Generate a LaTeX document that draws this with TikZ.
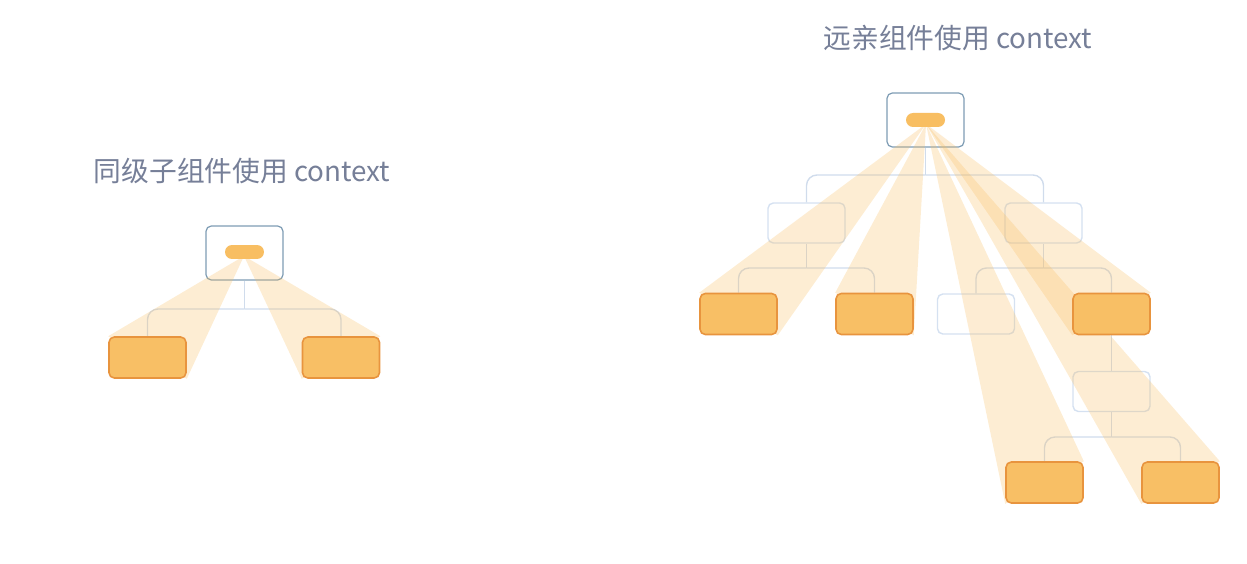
\documentclass[tikz,border=0pt]{standalone}
\usepackage{fontspec}
\newfontfamily\cjk{Noto Sans CJK SC}
\definecolor{titlegray}{RGB}{118,127,152}
\definecolor{rootblue}{RGB}{126,156,180}
\definecolor{plainline}{RGB}{213,225,241}
\definecolor{linkblue}{RGB}{208,220,236}
\definecolor{pillorange}{RGB}{248,190,98}
\definecolor{leaforange}{RGB}{248,191,101}
\definecolor{leafline}{RGB}{232,148,62}
\pgfdeclarelayer{front}
\pgfsetlayers{main,front}

\begin{document}
\begin{tikzpicture}[x=0.02cm, y=-0.02cm,
    title/.style={font=\cjk\fontsize{15.8}{19}\selectfont, text=titlegray, inner sep=0pt},
    rootbox/.style={draw=rootblue, line width=0.7pt, fill=white, rounded corners=3pt,
        minimum width=1.54cm, minimum height=1.08cm, inner sep=0pt},
    pill/.style={fill=pillorange, rounded corners=0.14cm,
        minimum width=0.78cm, minimum height=0.28cm, inner sep=0pt},
    usebox/.style={draw=leafline, line width=0.9pt, fill=leaforange, rounded corners=3pt,
        minimum width=1.54cm, minimum height=0.82cm, inner sep=0pt},
    plainbox/.style={draw=plainline, line width=0.8pt, fill=white, rounded corners=3pt,
        minimum width=1.54cm, minimum height=0.8cm, inner sep=0pt},
    link/.style={draw=linkblue, line width=0.8pt, rounded corners=6pt},
    beam/.style={fill=pillorange, fill opacity=0.28}]
    \useasboundingbox (0,0) rectangle (1247,564);

    % left: siblings
    \node [title] (titleL) at (242,171) {同级子组件使用 context};
    \node [rootbox] (rootL) at (244.5,253) {};
    \coordinate (hubL) at (244.5,309);
    \coordinate (apexL) at (244,256);
    \begin{pgfonlayer}{front}
        \node [pill] (pillL) at (244.5,252) {};
        \node [usebox] (sibA) at (147.5,357.5) {};
        \node [usebox] (sibB) at (341,357.5) {};
    \end{pgfonlayer}
    \draw [link] (rootL.south) -- (hubL);
    \draw [link] (hubL) -| (sibA.north);
    \draw [link] (hubL) -| (sibB.north);
    \fill [beam] (apexL) -- (sibA.north west) -- (sibA.south east) -- cycle;
    \fill [beam] (apexL) -- (sibB.north east) -- (sibB.south west) -- cycle;

    % right: distant relatives
    \node [title] (titleR) at (958,38) {远亲组件使用 context};
    \node [rootbox] (rootR) at (925.5,120) {};
    \coordinate (hubR) at (925.5,175);
    \coordinate (apexR) at (926,124);
    \node [plainbox] (midA) at (806.5,223) {};
    \node [plainbox] (midB) at (1043.5,223) {};
    \coordinate (hubA) at (806.5,268);
    \coordinate (hubB) at (1043.5,268);
    \node [plainbox] (relC) at (976,314) {};
    \node [plainbox] (relE) at (1111.5,391.5) {};
    \coordinate (hubE) at (1111.5,437);
    \begin{pgfonlayer}{front}
        \node [pill] (pillR) at (925.5,120) {};
        \node [usebox] (relA) at (738.5,314) {};
        \node [usebox] (relB) at (874.5,314) {};
        \node [usebox] (relD) at (1111.5,314) {};
        \node [usebox] (relF) at (1044.5,482.5) {};
        \node [usebox] (relG) at (1180.5,482.5) {};
    \end{pgfonlayer}
    \draw [link] (rootR.south) -- (hubR);
    \draw [link] (hubR) -| (midA.north);
    \draw [link] (hubR) -| (midB.north);
    \draw [link] (midA.south) -- (hubA);
    \draw [link] (hubA) -| (relA.north);
    \draw [link] (hubA) -| (relB.north);
    \draw [link] (midB.south) -- (hubB);
    \draw [link] (hubB) -| (relC.north);
    \draw [link] (hubB) -| (relD.north);
    \draw [link] (relD.south) -- (relE.north);
    \draw [link] (relE.south) -- (hubE);
    \draw [link] (hubE) -| (relF.north);
    \draw [link] (hubE) -| (relG.north);
    \fill [beam] (apexR) -- (relA.north west) -- (relA.south east) -- cycle;
    \fill [beam] (apexR) -- (relB.north west) -- (relB.south east) -- cycle;
    \fill [beam] (apexR) -- (relD.north east) -- (relD.south west) -- cycle;
    \fill [beam] (apexR) -- (relF.north east) -- (relF.south west) -- cycle;
    \fill [beam] (apexR) -- (relG.north east) -- (relG.south west) -- cycle;
\end{tikzpicture}
\end{document}
